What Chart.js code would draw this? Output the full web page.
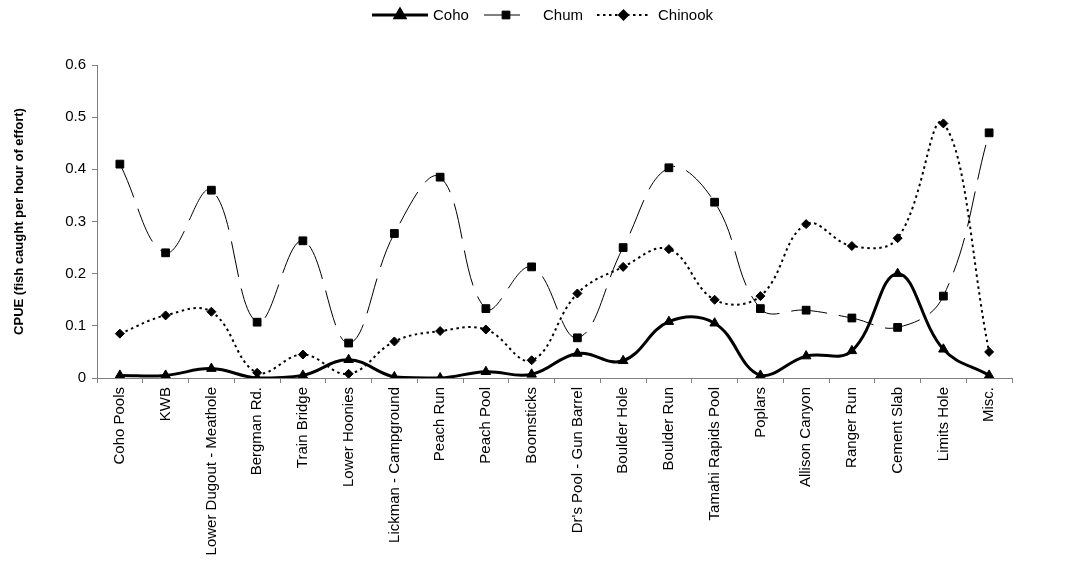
<!DOCTYPE html>
<html>
<head>
<meta charset="utf-8">
<script src="https://cdn.jsdelivr.net/npm/chart.js@4.4.1/dist/chart.umd.min.js"></script>
<style>
  html, body { margin: 0; padding: 0; background: #fff; }
  #wrap { width: 1080px; height: 561px; }
</style>
</head>
<body>
<div id="wrap"><canvas id="cpueChart"></canvas></div>
<script>
"use strict";

// sites along the river
const sites = ["Coho Pools", "KWB", "Lower Dugout - Meathole", "Bergman Rd.", "Train Bridge",
  "Lower Hoonies", "Lickman - Campground", "Peach Run", "Peach Pool", "Boomsticks",
  "Dr's Pool - Gun Barrel", "Boulder Hole", "Boulder Run", "Tamahi Rapids Pool", "Poplars",
  "Allison Canyon", "Ranger Run", "Cement Slab", "Limits Hole", "Misc."];

const coho = [0.005, 0.005, 0.018, 0, 0.005, 0.035, 0.002, 0, 0.012, 0.007,
  0.047, 0.033, 0.108, 0.105, 0.005, 0.042, 0.052, 0.2, 0.055, 0.005];
const chum = [0.41, 0.24, 0.36, 0.107, 0.263, 0.067, 0.277, 0.385, 0.133, 0.213,
  0.077, 0.25, 0.403, 0.337, 0.133, 0.13, 0.115, 0.097, 0.157, 0.47];
const chinook = [0.085, 0.12, 0.127, 0.01, 0.045, 0.008, 0.07, 0.09, 0.093, 0.034,
  0.162, 0.213, 0.247, 0.15, 0.157, 0.295, 0.253, 0.268, 0.488, 0.05];

const yTicks = [0, 0.1, 0.2, 0.3, 0.4, 0.5, 0.6];

const FONT = "'Liberation Sans', Arial, sans-serif";

// legend drawn by hand so each sample shows line + marker like the original
const lineLegend = {
  id: 'lineLegend',
  afterDraw(chart) {
    const ctx = chart.ctx;
    const y = 15;
    const items = [
      { x1: 372, x2: 428, text: 'Coho', tx: 433 },
      { x1: 484, x2: 528, text: 'Chum', tx: 543 },
      { x1: 597, x2: 650, text: 'Chinook', tx: 658 }
    ];
    chart.data.datasets.forEach((ds, i) => {
      const it = items[i];
      ctx.save();
      ctx.strokeStyle = '#000';
      ctx.lineWidth = ds.borderWidth;
      ctx.setLineDash(ds.borderDash || []);
      ctx.beginPath();
      ctx.moveTo(it.x1, y);
      ctx.lineTo(it.x2, y);
      ctx.stroke();
      ctx.setLineDash([]);
      Chart.helpers.drawPoint(ctx, {
        pointStyle: ds.pointStyle,
        radius: ds.pointRadius,
        borderWidth: 1
      }, (it.x1 + it.x2) / 2, y);
      ctx.fillStyle = '#000';
      ctx.font = '15px ' + FONT;
      ctx.textBaseline = 'middle';
      ctx.textAlign = 'left';
      ctx.fillText(it.text, it.tx, y + 1);
      ctx.restore();
    });
  }
};

function chart_init() {
  const data = {
    labels: sites,
    datasets: [
      {
        label: 'Coho',
        data: coho,
        borderColor: '#000',
        backgroundColor: '#000',
        borderWidth: 3,
        pointStyle: 'triangle',
        pointRadius: 5.5,
        pointBorderWidth: 1,
        tension: 0.4
      },
      {
        label: 'Chum',
        data: chum,
        borderColor: '#000',
        backgroundColor: '#000',
        borderWidth: 1,
        borderDash: [36, 12],
        pointStyle: 'rect',
        pointRadius: 5.5,
        pointBorderWidth: 1,
        tension: 0.4
      },
      {
        label: 'Chinook',
        data: chinook,
        borderColor: '#000',
        backgroundColor: '#000',
        borderWidth: 2,
        borderDash: [2.5, 3.5],
        pointStyle: 'rectRot',
        pointRadius: 4.5,
        pointBorderWidth: 1,
        tension: 0.4
      }
    ]
  };

  const config = {
    type: 'line',
    data: data,
    options: {
      responsive: true,
      maintainAspectRatio: false,
      animation: false,
      layout: {
        padding: { top: 65, right: 68, left: 4, bottom: 0 }
      },
      plugins: {
        legend: { display: false },
        tooltip: { enabled: false }
      },
      scales: {
        x: {
          offset: true,
          grid: {
            offset: true,
            drawOnChartArea: false,
            drawTicks: true,
            tickLength: 5,
            color: '#808080'
          },
          border: { color: '#808080', width: 1 },
          ticks: {
            autoSkip: false,
            maxRotation: 90,
            minRotation: 90,
            padding: 4,
            color: '#000',
            font: { family: FONT, size: 15 }
          },
          afterFit: (scale) => { scale.height = 183; }
        },
        y: {
          min: 0,
          max: 0.6,
          afterBuildTicks: (scale) => { scale.ticks = yTicks.map(v => ({ value: v })); },
          grid: {
            drawOnChartArea: false,
            tickLength: 5,
            color: '#808080'
          },
          border: { color: '#808080', width: 1 },
          ticks: {
            padding: 6,
            color: '#000',
            font: { family: FONT, size: 15 },
            callback: (v) => (v === 0 ? '0' : v.toFixed(1))
          },
          title: {
            display: true,
            text: 'CPUE (fish caught per hour of effort)',
            color: '#000',
            font: { family: FONT, size: 13, weight: 'bold' },
            padding: { top: 8, bottom: 4 }
          },
          afterFit: (scale) => { scale.width = 93; }
        }
      }
    },
    plugins: [lineLegend]
  };

  new Chart('cpueChart', config);
}

chart_init();
</script>
</body>
</html>
